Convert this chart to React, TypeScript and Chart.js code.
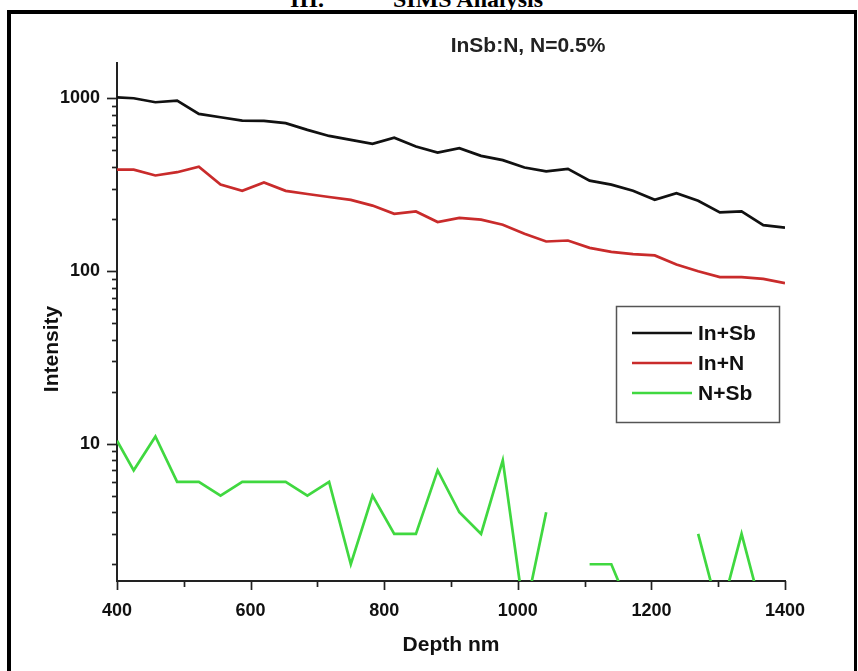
import React, { useEffect, useRef } from "react";
import { Chart, registerables } from "chart.js";

Chart.register(...registerables);

const DEPTH = [
  400, 425, 457.5, 490, 522.5, 555, 587.5, 620, 652.5, 685, 717.5, 750, 782.5, 815, 847.5, 880,
  912.5, 945, 977.5, 1010, 1042.5, 1075, 1107.5, 1140, 1172.5, 1205, 1237.5, 1270, 1302.5, 1335,
  1367.5, 1400,
];

const IN_SB = [
  1013, 1000, 948, 968, 811, 776, 742, 740, 717, 656, 605, 574, 545, 591, 525, 485,
  514, 464, 438, 397, 377, 390, 333, 316, 291, 258, 282, 255, 218, 221,
  184, 178,
];

const IN_N = [
  386, 386, 357, 373, 401, 316, 291, 325, 291, 279, 268, 258, 239, 214, 221, 192,
  203, 198, 185, 164, 148, 150, 136, 129, 125, 123, 109, 99.5, 92, 92,
  90, 85,
];

const N_SB: (number | null)[] = [
  10.4, 7, 11, 6, 6, 5, 6, 6, 6, 5, 6, 2, 5, 3, 3, 7,
  4, 3, 8, 1, 4, null, 2, 2, 1, null, null, 3, 1, 3,
  1, null,
];

const SERIES_LABELS = ["In+Sb", "In+N", "N+Sb"];
const SERIES_COLORS = ["#111111", "#c92b2b", "#40d840"];

const X_TICKS = [400, 500, 600, 700, 800, 900, 1000, 1100, 1200, 1300, 1400];
const X_LABELED = [400, 600, 800, 1000, 1200, 1400];
const Y_TICKS = [
  2, 3, 4, 5, 6, 7, 8, 9, 10, 20, 30, 40, 50, 60, 70, 80, 90, 100, 200, 300, 400, 500, 600, 700,
  800, 900, 1000,
];
const Y_LABELED = [10, 100, 1000];

const CHART_TITLE = "InSb:N, N=0.5%";
const X_TITLE = "Depth nm";
const Y_TITLE = "Intensity";

const FONT = "'Liberation Sans', Arial, Helvetica, sans-serif";

const decorPlugin = {
  id: "decor",
  afterDraw(chart: any) {
    const ctx = chart.ctx as CanvasRenderingContext2D;
    const area = chart.chartArea;
    const xs = chart.scales.x;
    const ys = chart.scales.y;
    ctx.save();
    // tick marks
    ctx.strokeStyle = "#222";
    ctx.lineWidth = 1.7;
    ys.ticks.forEach((t: any, i: number) => {
      const y = Math.round(ys.getPixelForTick(i)) + 0.5;
      const len = Y_LABELED.includes(t.value) ? 10 : 5;
      ctx.beginPath();
      ctx.moveTo(area.left, y);
      ctx.lineTo(area.left - len, y);
      ctx.stroke();
    });
    xs.ticks.forEach((t: any, i: number) => {
      const x = Math.round(xs.getPixelForTick(i)) + 0.5;
      const len = X_LABELED.includes(t.value) ? 9 : 6;
      ctx.beginPath();
      ctx.moveTo(x, area.bottom);
      ctx.lineTo(x, area.bottom + len);
      ctx.stroke();
    });

    // chart title
    ctx.fillStyle = "#222";
    ctx.font = `bold 21px ${FONT}`;
    ctx.textAlign = "center";
    ctx.textBaseline = "middle";
    ctx.fillText(CHART_TITLE, 528, 46);

    // y axis title
    ctx.save();
    ctx.translate(52, 349);
    ctx.rotate(-Math.PI / 2);
    ctx.font = `bold 21px ${FONT}`;
    ctx.fillStyle = "#111";
    ctx.fillText(Y_TITLE, 0, 0);
    ctx.restore();

    // legend
    const bx = 616, by = 306, bw = 163, bh = 116;
    ctx.strokeStyle = "#555";
    ctx.lineWidth = 1.5;
    ctx.strokeRect(bx + 0.5, by + 0.5, bw, bh);
    ctx.font = `bold 21px ${FONT}`;
    ctx.textAlign = "left";
    ctx.textBaseline = "middle";
    chart.data.datasets.forEach((ds: any, i: number) => {
      const y = by + 27 + i * 30;
      ctx.strokeStyle = ds.borderColor;
      ctx.lineWidth = 2.7;
      ctx.beginPath();
      ctx.moveTo(bx + 16, y);
      ctx.lineTo(bx + 76, y);
      ctx.stroke();
      ctx.fillStyle = "#111";
      ctx.fillText(ds.label, bx + 82, y + 1);
    });
    ctx.restore();
  },
};

export default function App() {
  const canvasRef = useRef<HTMLCanvasElement | null>(null);

  useEffect(() => {
    if (!canvasRef.current) return;
    const seriesValues = [IN_SB, IN_N, N_SB];
    const chart = new Chart(canvasRef.current, {
      type: "line",
      data: {
        datasets: seriesValues.map((vals, i) => ({
          label: SERIES_LABELS[i],
          data: DEPTH.map((d, j) => ({ x: d, y: vals[j] })),
          borderColor: SERIES_COLORS[i],
          backgroundColor: SERIES_COLORS[i],
          borderWidth: 2.7,
          pointRadius: 0,
          tension: 0,
          spanGaps: false,
        })),
      },
      options: {
        responsive: false,
        animation: false,
        events: [],
        layout: { padding: { left: 0, top: 63, right: 73, bottom: 0 } },
        plugins: {
          legend: { display: false },
          title: { display: false },
          tooltip: { enabled: false },
        },
        scales: {
          x: {
            type: "linear",
            min: 400,
            max: 1400,
            afterBuildTicks: (scale: any) => {
              scale.ticks = X_TICKS.map((v) => ({ value: v }));
            },
            afterFit: (scale: any) => {
              scale.height = 90;
            },
            ticks: {
              autoSkip: false,
              maxRotation: 0,
              padding: 9,
              color: "#111",
              font: { family: FONT, size: 18, weight: "bold" },
              callback: (v: any) => (X_LABELED.includes(Number(v)) ? String(v) : ""),
            },
            grid: {
              display: true,
              drawOnChartArea: false,
              drawTicks: true,
              tickLength: 10,
              tickColor: "rgba(0,0,0,0)",
            },
            border: { display: true, color: "#222", width: 2 },
            title: {
              display: true,
              text: X_TITLE,
              color: "#111",
              font: { family: FONT, size: 21, weight: "bold" },
              padding: { top: 0, bottom: 13 },
            },
          },
          y: {
            type: "logarithmic",
            min: 1.6,
            max: 1600,
            afterBuildTicks: (scale: any) => {
              scale.ticks = Y_TICKS.map((v) => ({ value: v, major: Y_LABELED.includes(v) }));
            },
            afterFit: (scale: any) => {
              scale.width = 117;
            },
            ticks: {
              autoSkip: false,
              padding: 7,
              color: "#111",
              font: { family: FONT, size: 18, weight: "bold" },
              callback: (v: any) => (Y_LABELED.includes(Number(v)) ? String(v) : ""),
            },
            grid: {
              display: true,
              drawOnChartArea: false,
              drawTicks: true,
              tickLength: 10,
              tickColor: "rgba(0,0,0,0)",
            },
            border: { display: true, color: "#222", width: 2 },
            title: { display: false },
          },
        },
      },
      plugins: [decorPlugin],
    } as any);
    return () => chart.destroy();
  }, []);

  return (
    <div
      style={{
        position: "fixed",
        left: 0,
        top: 0,
        width: 858,
        height: 671,
        overflow: "hidden",
        background: "#fff",
      }}
    >
      <div
        style={{
          position: "absolute",
          left: 0,
          top: -11,
          width: 858,
          height: 20,
          fontFamily: "'Liberation Serif', 'Times New Roman', serif",
          fontWeight: "bold",
          fontSize: 24,
          lineHeight: "20px",
          color: "#000",
          whiteSpace: "nowrap",
        }}
      >
        <span style={{ position: "absolute", left: 290 }}>III.</span>
        <span style={{ position: "absolute", left: 393 }}>SIMS Analysis</span>
      </div>
      <div
        style={{
          position: "absolute",
          left: 7,
          top: 10,
          width: 850,
          height: 700,
          boxSizing: "border-box",
          borderLeft: "4px solid #000",
          borderTop: "4px solid #000",
          borderRight: "3px solid #000",
        }}
      />
      <canvas
        ref={canvasRef}
        width={858}
        height={671}
        style={{ position: "absolute", left: 0, top: 0, width: 858, height: 671 }}
      />
    </div>
  );
}
